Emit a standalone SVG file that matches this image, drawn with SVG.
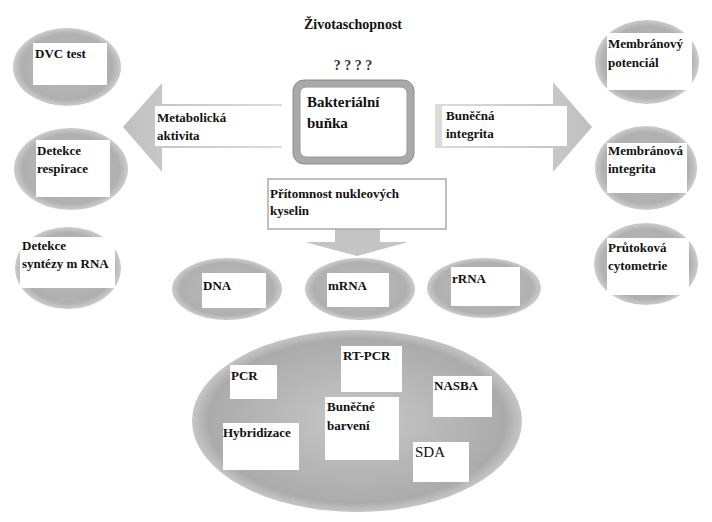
<svg xmlns="http://www.w3.org/2000/svg" width="712" height="522" viewBox="0 0 712 522">
<defs>
<radialGradient id="og" cx="50%" cy="50%" r="50%">
<stop offset="0" stop-color="#bababa"/>
<stop offset="0.85" stop-color="#b0b0b0"/>
<stop offset="1" stop-color="#cccccc"/>
</radialGradient>
<radialGradient id="bg" cx="50%" cy="50%" r="50%">
<stop offset="0" stop-color="#c8c8c8"/>
<stop offset="0.9" stop-color="#ababab"/>
<stop offset="1" stop-color="#c6c6c6"/>
</radialGradient>
<linearGradient id="al" x1="0" y1="0" x2="1" y2="0">
<stop offset="0" stop-color="#c0c0c0"/>
<stop offset="1" stop-color="#dcdcdc"/>
</linearGradient>
<linearGradient id="ar" x1="0" y1="0" x2="1" y2="0">
<stop offset="0" stop-color="#dcdcdc"/>
<stop offset="1" stop-color="#c0c0c0"/>
</linearGradient>
</defs>
<style>
text{font-family:'Liberation Serif','DejaVu Serif','Times New Roman',serif;fill:#111}
.t{font-weight:bold;font-size:13px}
.n{font-weight:normal;font-size:15px}
.b{fill:#fff}
.o{fill:url(#og)}
</style>
<rect width="712" height="522" fill="#fff"/>

<g id="connectors">
<polygon points="123,127 162,83 162,104 282,104 282,148 162,148 162,172" fill="url(#al)"/>
<polygon points="592,127 553,82 553,104 435,104 435,148 553,148 553,172" fill="url(#ar)"/>
<polygon points="335,229 380,229 380,242 408,242 357,256 305,242 335,242" fill="#c4c4c4"/>
<rect class="b" x="155" y="106" width="127" height="40"/>
<rect class="b" x="442" y="106" width="125" height="40"/>
<text class="t" x="157" y="122">Metabolická</text>
<text class="t" x="157" y="140">aktivita</text>
<text class="t" x="446" y="120">Buněčná</text>
<text class="t" x="446" y="138">integrita</text>
</g>

<g id="title">
<text class="t" x="353" y="29" text-anchor="middle" style="font-size:14px">Životaschopnost</text>
<text class="t" x="353" y="70" text-anchor="middle" style="font-size:14px;fill:#333">? ? ? ?</text>
</g>

<g id="bakterialni-bunka">
<rect x="293" y="80" width="121" height="84" rx="11" fill="#a9a9a9" stroke="#8a8a8a" stroke-width="1"/>
<rect x="300" y="87" width="107" height="70" rx="6" fill="#fff" stroke="#999" stroke-width="1"/>
<text class="t" x="307" y="107" style="font-size:15px">Bakteriální</text>
<text class="t" x="307" y="128" style="font-size:15px">buňka</text>
</g>

<g id="dvc-test">
<ellipse class="o" cx="67" cy="67" rx="54" ry="39"/>
<rect class="b" x="33" y="43" width="74" height="42"/>
<text class="t" x="35" y="58">DVC test</text>
</g>
<g id="detekce-respirace">
<ellipse class="o" cx="71" cy="169" rx="57" ry="41"/>
<rect class="b" x="36" y="140" width="74" height="57"/>
<text class="t" x="37" y="155">Detekce</text>
<text class="t" x="37" y="173">respirace</text>
</g>
<g id="detekce-syntezy">
<ellipse class="o" cx="68" cy="268" rx="53" ry="41"/>
<rect class="b" x="20" y="237" width="95" height="51"/>
<text class="t" x="22" y="250">Detekce</text>
<text class="t" x="22" y="268">syntézy m RNA</text>
</g>

<g id="membranovy-potencial">
<ellipse class="o" cx="647" cy="62" rx="52" ry="42"/>
<rect class="b" x="607" y="33" width="85" height="57"/>
<text class="t" x="608" y="48">Membránový</text>
<text class="t" x="608" y="67">potenciál</text>
</g>
<g id="membranova-integrita">
<ellipse class="o" cx="646" cy="168" rx="51" ry="42"/>
<rect class="b" x="607" y="143" width="80" height="50"/>
<text class="t" x="608" y="155">Membránová</text>
<text class="t" x="608" y="173">integrita</text>
</g>
<g id="prutokova-cytometrie">
<ellipse class="o" cx="646" cy="264" rx="52" ry="41"/>
<rect class="b" x="607" y="238" width="82" height="57"/>
<text class="t" x="608" y="252">Průtoková</text>
<text class="t" x="608" y="270">cytometrie</text>
</g>

<g id="pritomnost">
<rect x="268" y="179" width="178" height="50" fill="#fff" stroke="#aaa" stroke-width="1.5"/>
<text class="t" x="270" y="198">Přítomnost nukleových</text>
<text class="t" x="270" y="215">kyselin</text>
</g>

<g id="dna">
<ellipse class="o" cx="227" cy="289" rx="55" ry="31"/>
<rect class="b" x="202" y="273" width="64" height="35"/>
<text class="t" x="203" y="290">DNA</text>
</g>
<g id="mrna">
<ellipse class="o" cx="360" cy="289" rx="55" ry="31"/>
<rect class="b" x="327" y="273" width="62" height="34"/>
<text class="t" x="328" y="290">mRNA</text>
</g>
<g id="rrna">
<ellipse class="o" cx="484" cy="288" rx="57" ry="30"/>
<rect class="b" x="451" y="267" width="69" height="39"/>
<text class="t" x="452" y="283">rRNA</text>
</g>

<g id="metody">
<ellipse cx="357" cy="421" rx="165" ry="91" fill="url(#bg)"/>
<g id="pcr"><rect class="b" x="230" y="365" width="47" height="34"/><text class="t" x="231" y="380">PCR</text></g>
<g id="rt-pcr"><rect class="b" x="341" y="346" width="61" height="46"/><text class="t" x="343" y="360">RT-PCR</text></g>
<g id="nasba"><rect class="b" x="433" y="376" width="59" height="41"/><text class="t" x="434" y="390">NASBA</text></g>
<g id="bunecne-barveni"><rect class="b" x="325" y="397" width="74" height="63"/><text class="t" x="327" y="411">Buněčné</text><text class="t" x="327" y="430">barvení</text></g>
<g id="hybridizace"><rect class="b" x="223" y="423" width="76" height="47"/><text class="t" x="223" y="437">Hybridizace</text></g>
<g id="sda"><rect class="b" x="413" y="442" width="56" height="40"/><text class="n" x="415" y="457">SDA</text></g>
</g>
</svg>
